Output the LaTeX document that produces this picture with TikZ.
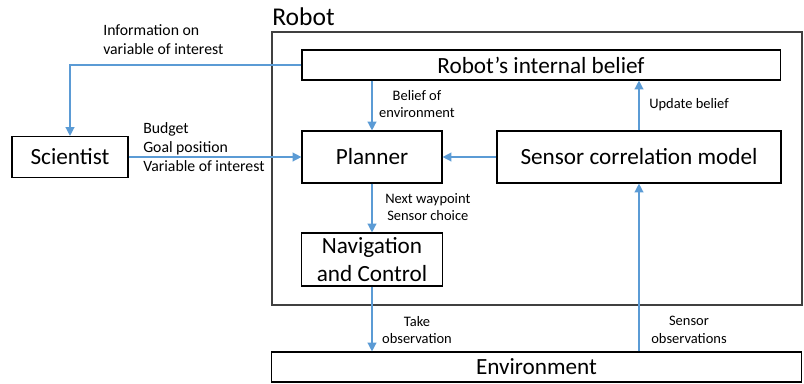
\documentclass[tikz,border=0pt]{standalone}
\usepackage{fontspec}
\setmainfont{Carlito}
\usepackage{xcolor}
\usepackage{tikz}
\usetikzlibrary{calc,arrows.meta}
\definecolor{linkblue}{RGB}{91,155,213}
\tikzset{
    block/.style={
        draw,
        line width=0.8pt,
        inner sep=0pt,
        align=center,
        font=\fontsize{16.5}{19.8}\selectfont
    },
    outerbox/.style={
        draw=black!75,
        line width=1pt,
        minimum width=13.25cm,
        minimum height=6.825cm
    },
    flow/.style={
        draw=linkblue,
        line width=1pt,
        -{Triangle[length=2.2mm,width=2.2mm]}
    },
    flowlabel/.style={
        inner sep=0pt,
        align=center,
        font=\fontsize{10.3}{12.4}\selectfont
    },
    inputlabel/.style={
        inner sep=0pt,
        align=left,
        anchor=west,
        font=\fontsize{11.2}{13.5}\selectfont
    }
}

\begin{document}
\begin{tikzpicture}[x=0.025cm,y=-0.025cm]
    \useasboundingbox (0,0) rectangle (804,383);

    %% Robot frame
    \node (Rob) [outerbox] at (537,168.5) {};
    \node (RobLabel) [anchor=base west,inner sep=0pt,font=\fontsize{18.2}{22}\selectfont] at (272,25) {Robot};

    \node (Bel) [block,minimum width=11.95cm,minimum height=0.75cm] at (541,65) {Robot’s internal belief};
    \node (Plan) [block,minimum width=3.5cm,minimum height=1.3cm] at (372,157) {Planner};
    \node (Scor) [block,minimum width=7.1cm,minimum height=1.3cm] at (639,157) {Sensor correlation model};
    \node (Nav) [block,minimum width=3.525cm,minimum height=1.325cm] at (372,259.5) {Navigation\\and Control};

    %% Outside
    \node (Sci) [block,minimum width=2.9cm,minimum height=1.025cm] at (70,157) {Scientist};
    \node (Env) [block,minimum width=13.225cm,minimum height=0.75cm] at (536.5,367) {Environment};

    %% Scientist links
    \draw[flow] (Bel.west) -| (Sci.north);
    \node (Linfo) [inputlabel] at (103,39.5) {Information on\\variable of interest};
    \draw[flow] (Sci.east) -- (Plan.west);
    \node (Lbudget) [inputlabel] at (143,147) {Budget\\Goal position\\Variable of interest};

    %% Inside the robot
    \draw[flow] (Plan.north |- Bel.south) -- (Plan.north);
    \node (Lbelief) [flowlabel] at (417,104) {Belief of\\environment};
    \draw[flow] (Scor.north) -- (Scor.north |- Bel.south);
    \node (Lupdate) [flowlabel,anchor=west] at (649,105) {Update belief};
    \draw[flow] (Scor.west) -- (Plan.east);
    \draw[flow] (Plan.south) -- (Nav.north);
    \node (Lnext) [flowlabel,anchor=west] at (385,207) {Next waypoint\\Sensor choice};

    %% Environment links
    \draw[flow] (Nav.south) -- (Nav.south |- Env.north);
    \node (Ltake) [flowlabel] at (417,330) {Take\\observation};
    \draw[flow] (Scor.south |- Env.north) -- (Scor.south);
    \node (Lsens) [flowlabel] at (689,330) {Sensor\\observations};

\end{tikzpicture}
\end{document}
